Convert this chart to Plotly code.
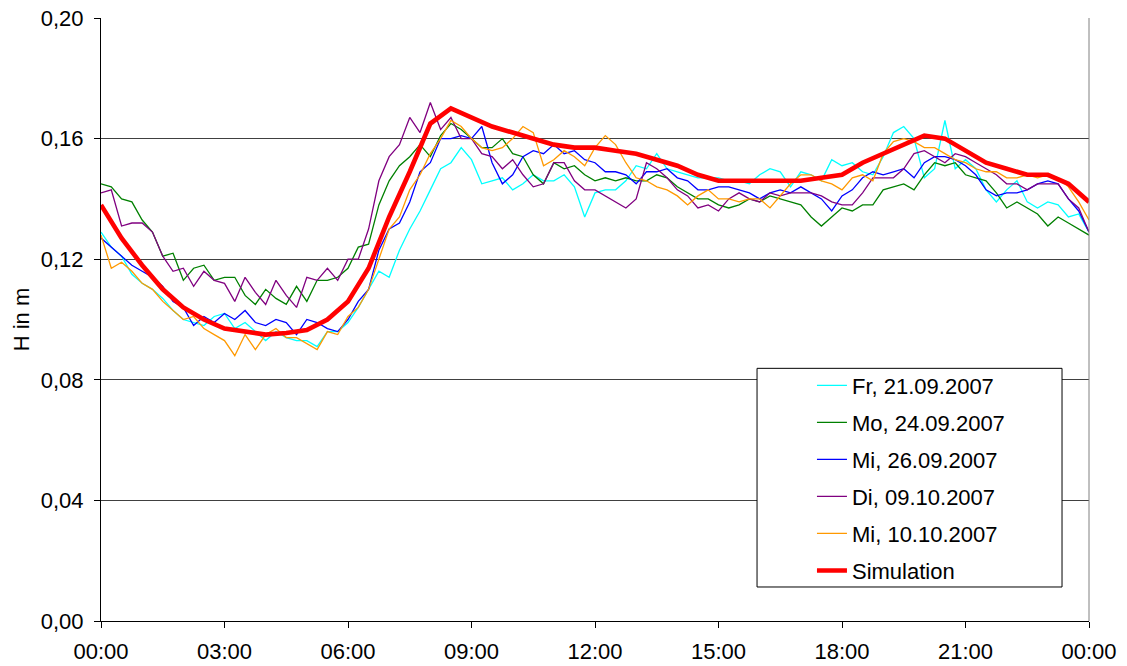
import plotly.graph_objects as go

# Time axis (hours after midnight)
quarter_hours = [i / 4 for i in range(97)]
half_hours = [i / 2 for i in range(49)]

tick_hours = [0, 3, 6, 9, 12, 15, 18, 21, 24]
tick_labels = ["00:00", "03:00", "06:00", "09:00", "12:00", "15:00", "18:00", "21:00", "00:00"]

# Measured water levels H in m, 15-minute values
fr_21_09 = [
    0.129, 0.124, 0.121, 0.115, 0.112, 0.110, 0.107, 0.103, 0.100, 0.099,
    0.098, 0.101, 0.102, 0.097, 0.099, 0.096, 0.093, 0.096, 0.094, 0.093,
    0.093, 0.091, 0.096, 0.096, 0.099, 0.104, 0.110, 0.116, 0.114, 0.123,
    0.130, 0.136, 0.143, 0.150, 0.152, 0.157, 0.153, 0.145, 0.146, 0.147,
    0.143, 0.145, 0.148, 0.146, 0.146, 0.148, 0.144, 0.134, 0.142, 0.143,
    0.143, 0.146, 0.151, 0.150, 0.155, 0.150, 0.149, 0.148, 0.147, 0.147,
    0.147, 0.146, 0.146, 0.145, 0.148, 0.150, 0.149, 0.144, 0.149, 0.148,
    0.146, 0.153, 0.151, 0.152, 0.149, 0.148, 0.154, 0.162, 0.164, 0.160,
    0.147, 0.150, 0.166, 0.150, 0.153, 0.150, 0.143, 0.139, 0.143, 0.146,
    0.139, 0.137, 0.139, 0.138, 0.134, 0.135, 0.129,
]

mo_24_09 = [
    0.145, 0.144, 0.140, 0.139, 0.133, 0.129, 0.121, 0.122, 0.113, 0.117,
    0.118, 0.113, 0.114, 0.114, 0.108, 0.105, 0.110, 0.107, 0.105, 0.111,
    0.106, 0.113, 0.113, 0.114, 0.117, 0.124, 0.125, 0.138, 0.146, 0.151,
    0.154, 0.158, 0.154, 0.161, 0.165, 0.163, 0.160, 0.157, 0.157, 0.160,
    0.155, 0.154, 0.148, 0.145, 0.152, 0.150, 0.151, 0.148, 0.146, 0.147,
    0.146, 0.147, 0.146, 0.146, 0.148, 0.147, 0.144, 0.142, 0.140, 0.140,
    0.138, 0.137, 0.138, 0.140, 0.139, 0.141, 0.140, 0.139, 0.138, 0.134,
    0.131, 0.134, 0.137, 0.136, 0.138, 0.138, 0.143, 0.144, 0.145, 0.143,
    0.148, 0.152, 0.151, 0.152, 0.148, 0.147, 0.146, 0.142, 0.137, 0.139,
    0.137, 0.135, 0.131, 0.134, 0.132, 0.130, 0.128,
]

mi_26_09 = [
    0.127, 0.124, 0.121, 0.118, 0.116, 0.114, 0.111, 0.106, 0.104, 0.098,
    0.101, 0.099, 0.102, 0.100, 0.103, 0.099, 0.098, 0.100, 0.099, 0.095,
    0.100, 0.099, 0.097, 0.096, 0.100, 0.106, 0.110, 0.123, 0.130, 0.132,
    0.139, 0.149, 0.152, 0.160, 0.160, 0.161, 0.160, 0.164, 0.152, 0.145,
    0.148, 0.154, 0.156, 0.155, 0.158, 0.155, 0.156, 0.153, 0.152, 0.149,
    0.149, 0.148, 0.145, 0.149, 0.149, 0.150, 0.147, 0.146, 0.143, 0.143,
    0.144, 0.144, 0.143, 0.142, 0.140, 0.142, 0.143, 0.142, 0.144, 0.142,
    0.140, 0.136, 0.141, 0.143, 0.147, 0.149, 0.148, 0.149, 0.150, 0.147,
    0.152, 0.154, 0.154, 0.153, 0.151, 0.148, 0.143, 0.141, 0.142, 0.142,
    0.143, 0.145, 0.146, 0.145, 0.140, 0.136, 0.129,
]

di_09_10 = [
    0.142, 0.143, 0.131, 0.132, 0.132, 0.129, 0.121, 0.116, 0.117, 0.111,
    0.116, 0.113, 0.112, 0.106, 0.114, 0.109, 0.105, 0.113, 0.108, 0.104,
    0.114, 0.113, 0.117, 0.113, 0.120, 0.120, 0.130, 0.146, 0.154, 0.158,
    0.167, 0.162, 0.172, 0.163, 0.167, 0.160, 0.160, 0.155, 0.154, 0.150,
    0.153, 0.148, 0.144, 0.145, 0.152, 0.152, 0.146, 0.143, 0.143, 0.141,
    0.139, 0.137, 0.140, 0.152, 0.150, 0.147, 0.143, 0.141, 0.137, 0.138,
    0.136, 0.140, 0.142, 0.140, 0.139, 0.142, 0.141, 0.142, 0.142, 0.142,
    0.141, 0.139, 0.138, 0.138, 0.142, 0.147, 0.147, 0.147, 0.150, 0.155,
    0.156, 0.154, 0.152, 0.155, 0.154, 0.152, 0.150, 0.148, 0.145, 0.145,
    0.143, 0.145, 0.145, 0.145, 0.140, 0.137, 0.129,
]

mi_10_10 = [
    0.128, 0.117, 0.119, 0.116, 0.112, 0.110, 0.106, 0.103, 0.100, 0.101,
    0.097, 0.095, 0.093, 0.088, 0.095, 0.090, 0.095, 0.097, 0.094, 0.094,
    0.092, 0.090, 0.096, 0.095, 0.101, 0.104, 0.110, 0.120, 0.130, 0.134,
    0.143, 0.148, 0.155, 0.160, 0.166, 0.164, 0.160, 0.157, 0.156, 0.157,
    0.160, 0.164, 0.162, 0.151, 0.153, 0.156, 0.154, 0.151, 0.157, 0.161,
    0.158, 0.152, 0.147, 0.146, 0.144, 0.143, 0.141, 0.138, 0.141, 0.143,
    0.140, 0.140, 0.139, 0.140, 0.140, 0.137, 0.141, 0.145, 0.148, 0.148,
    0.146, 0.145, 0.143, 0.147, 0.148, 0.146, 0.155, 0.159, 0.160, 0.159,
    0.157, 0.157, 0.155, 0.153, 0.152, 0.150, 0.149, 0.149, 0.147, 0.147,
    0.148, 0.147, 0.148, 0.147, 0.144, 0.139, 0.133,
]

# Simulated water level, 30-minute values
simulation = [
    0.138, 0.127, 0.118, 0.110, 0.104, 0.100, 0.097, 0.096, 0.095, 0.0955,
    0.0965, 0.100, 0.106, 0.117, 0.134, 0.149, 0.165, 0.170, 0.167, 0.164,
    0.162, 0.160, 0.158, 0.157, 0.157, 0.156, 0.155, 0.153, 0.151, 0.148,
    0.146, 0.146, 0.146, 0.146, 0.146, 0.147, 0.148, 0.152, 0.155, 0.158,
    0.161, 0.160, 0.156, 0.152, 0.150, 0.148, 0.148, 0.145, 0.139,
]

measured = [
    ("Fr, 21.09.2007", fr_21_09, "#00FFFF"),
    ("Mo, 24.09.2007", mo_24_09, "#008000"),
    ("Mi, 26.09.2007", mi_26_09, "#0000FF"),
    ("Di, 09.10.2007", di_09_10, "#800080"),
    ("Mi, 10.10.2007", mi_10_10, "#FF9900"),
]

FONT = "Liberation Sans, Arial, sans-serif"
FSIZE = 22

fig = go.Figure()
for name, values, color in measured:
    fig.add_trace(go.Scatter(
        x=quarter_hours, y=values, mode="lines", name=name,
        legendgroup=name, line=dict(color=color, width=1.3),
    ))
fig.add_trace(go.Scatter(
    x=half_hours, y=simulation, mode="lines", name="Simulation",
    legendgroup="Simulation", line=dict(color="#FF0000", width=4.6),
))

# Legend frame and right border of the plot area
fig.add_shape(type="rect", xref="paper", yref="paper",
              x0=0.664, x1=0.9727, y0=0.0564, y1=0.419,
              line=dict(color="black", width=1), fillcolor="white", layer="above")
fig.add_shape(type="line", xref="paper", yref="paper",
              x0=1, x1=1, y0=0, y1=1,
              line=dict(color="#808080", width=1), layer="above")

fig.update_layout(
    width=1127, height=666,
    margin=dict(l=101, r=38, t=18, b=45, autoexpand=False),
    paper_bgcolor="white", plot_bgcolor="white",
    separators=",.",
    font=dict(family=FONT, size=FSIZE, color="black"),
    showlegend=True,
    legend=dict(
        x=0.7196, y=0.4251, xanchor="left", yanchor="top",
        bgcolor="rgba(0,0,0,0)", borderwidth=0,
        traceorder="grouped", tracegroupgap=5.4,
        font=dict(family=FONT, size=FSIZE, color="black"),
        itemwidth=30,
    ),
    xaxis=dict(
        range=[0, 24], tickvals=tick_hours, ticktext=tick_labels,
        showgrid=False, zeroline=False, automargin=False,
        showline=True, linecolor="black", linewidth=1,
        ticks="outside", ticklen=6, tickcolor="black", ticklabelstandoff=5,
        tickfont=dict(family=FONT, size=FSIZE),
    ),
    yaxis=dict(
        range=[0, 0.2], tickvals=[0, 0.04, 0.08, 0.12, 0.16, 0.2], tickformat=".2f",
        showgrid=True, gridcolor="#404040", gridwidth=1, zeroline=False, automargin=False,
        showline=True, linecolor="black", linewidth=1,
        ticks="outside", ticklen=6, tickcolor="black", ticklabelstandoff=6,
        tickfont=dict(family=FONT, size=FSIZE),
        title=dict(text="H in m", font=dict(family=FONT, size=FSIZE), standoff=5),
    ),
)

fig.write_html("out.html")
